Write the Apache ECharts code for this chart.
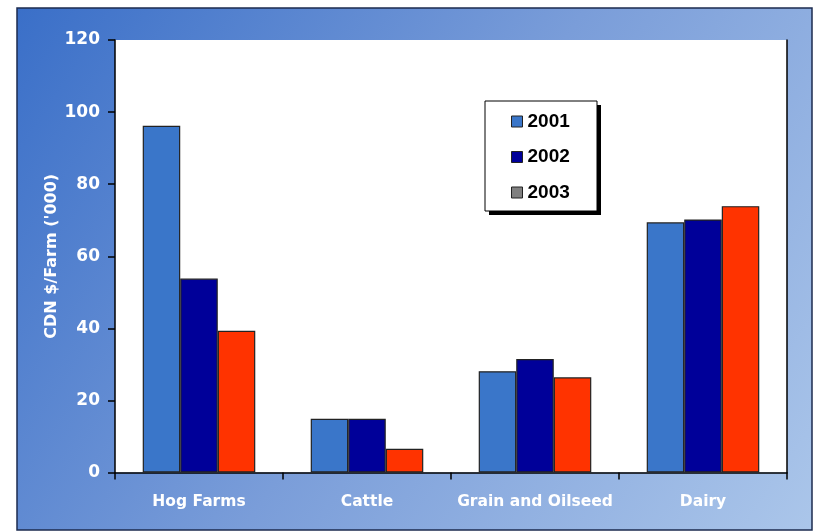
<!DOCTYPE html>
<html>
<head>
<meta charset="utf-8">
<script src="https://cdn.jsdelivr.net/npm/echarts@6/dist/echarts.min.js"></script>
<style>
  html, body { margin: 0; padding: 0; background: #ffffff; }
  #chart { width: 813px; height: 532px; }
</style>
</head>
<body>
<div id="chart"></div>
<script>
// Farm categories and average payments per farm (CDN $ thousands)
const categories = ['Hog Farms', 'Cattle', 'Grain and Oilseed', 'Dairy'];
const years = ['2001', '2002', '2003'];
const values2001 = [96.2, 14.9, 28.1, 69.4];
const values2002 = [53.8, 14.9, 31.5, 70.2];
const values2003 = [39.3, 6.6, 26.4, 73.9];
const yTicks = { min: 0, max: 120, interval: 20 };

const barColors = ['#3a76c9', '#000099', '#ff3300'];
const legendColors = ['#3a76c9', '#000099', '#808080'];
const seriesValues = [values2001, values2002, values2003];

const chart = echarts.init(document.getElementById('chart'), null, { renderer: 'canvas' });

const labelFont = 'DejaVu Sans';

// Legend panel: white box with a hard black drop shadow
const legendBox = { x: 485, y: 101, width: 112, height: 110 };

chart.setOption({
  backgroundColor: '#ffffff',
  animation: false,
  graphic: [{
    type: 'rect',
    z: -10,
    silent: true,
    shape: { x: 17, y: 8, width: 795, height: 522 },
    style: {
      fill: new echarts.graphic.LinearGradient(0, 0, 1, 1, [
        { offset: 0, color: '#3a6fc8' },
        { offset: 0.5, color: '#7a9dd9' },
        { offset: 1, color: '#abc6ea' }
      ]),
      stroke: '#1c2b4f',
      lineWidth: 1.5
    }
  }, {
    type: 'rect',
    z: 1,
    silent: true,
    shape: { x: legendBox.x + 4, y: legendBox.y + 4, width: legendBox.width, height: legendBox.height },
    style: { fill: '#000000' }
  }, {
    type: 'rect',
    z: 2,
    silent: true,
    shape: { x: legendBox.x, y: legendBox.y, width: legendBox.width, height: legendBox.height },
    style: { fill: '#ffffff', stroke: '#000000', lineWidth: 1 }
  }],
  grid: {
    left: 115,
    right: 26,
    top: 40,
    bottom: 59.5,
    show: true,
    backgroundColor: '#ffffff',
    borderWidth: 0
  },
  legend: {
    orient: 'vertical',
    left: legendBox.x,
    top: legendBox.y,
    z: 10,
    padding: [11, 20, 11, 26],
    itemGap: 16.5,
    itemWidth: 11,
    itemHeight: 11,
    itemStyle: { borderColor: '#222222', borderWidth: 1 },
    icon: 'rect',
    textStyle: {
      fontFamily: 'Liberation Sans',
      fontWeight: 'bold',
      fontSize: 19,
      color: '#000000',
      padding: [0, 0, 0, 0]
    },
    data: years.map((y, i) => ({
      name: y,
      itemStyle: { color: legendColors[i], borderColor: '#222222', borderWidth: 1 }
    }))
  },
  xAxis: {
    type: 'category',
    data: categories,
    axisLine: { lineStyle: { color: '#000000', width: 1.5 } },
    axisTick: { show: true, length: 7, inside: false, lineStyle: { color: '#000000', width: 1.5 } },
    axisLabel: {
      interval: 0,
      color: '#ffffff',
      fontFamily: labelFont,
      fontWeight: 'bold',
      fontSize: 15.5,
      margin: 21
    },
    splitLine: { show: false }
  },
  yAxis: [{
    type: 'value',
    min: yTicks.min,
    max: yTicks.max,
    interval: yTicks.interval,
    name: "CDN $/Farm ('000)",
    nameLocation: 'middle',
    nameGap: 55,
    nameMoveOverlap: false,
    nameTextStyle: {
      color: '#ffffff',
      fontFamily: labelFont,
      fontWeight: 'bold',
      fontSize: 16
    },
    axisLine: { show: true, lineStyle: { color: '#000000', width: 1.5 } },
    axisTick: { show: true, length: 7, lineStyle: { color: '#000000', width: 1.5 } },
    axisLabel: {
      color: '#ffffff',
      fontFamily: labelFont,
      fontWeight: 'bold',
      fontSize: 17,
      margin: 15
    },
    splitLine: { show: false }
  }, {
    type: 'value',
    position: 'right',
    min: yTicks.min,
    max: yTicks.max,
    interval: yTicks.interval,
    axisLine: { show: true, lineStyle: { color: '#000000', width: 1.5 } },
    axisTick: { show: false },
    axisLabel: { show: false },
    splitLine: { show: false }
  }],
  series: years.map((y, i) => ({
    name: y,
    type: 'bar',
    data: seriesValues[i],
    barGap: '0%',
    barCategoryGap: '33%',
    itemStyle: {
      color: barColors[i],
      borderColor: '#222222',
      borderWidth: 1.2
    }
  }))
});
</script>
</body>
</html>
